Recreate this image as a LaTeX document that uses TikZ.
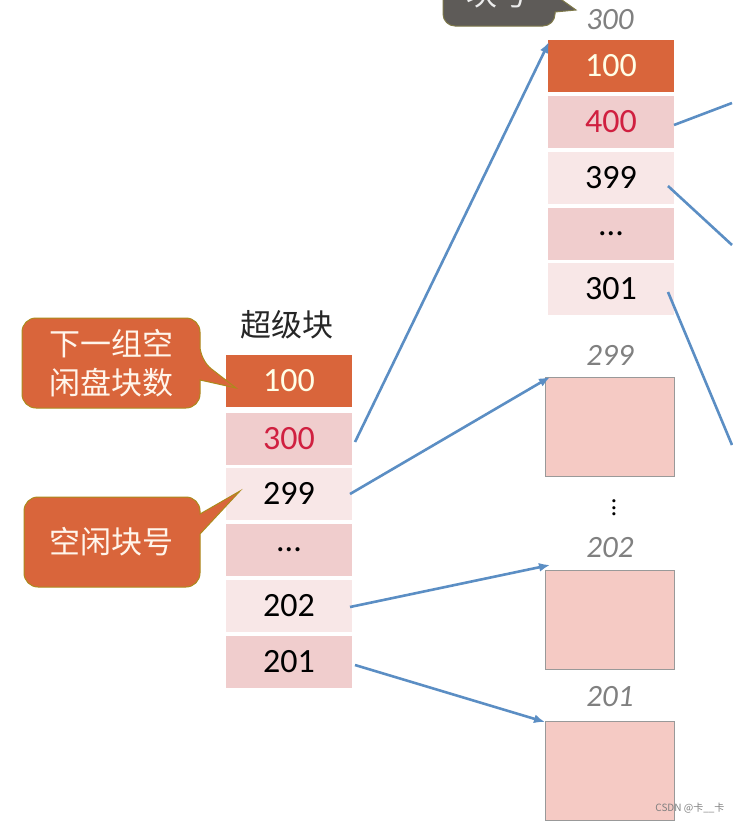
\documentclass[tikz,border=0pt]{standalone}
\usepackage{fontspec}
\setmainfont{Carlito}
\newfontfamily\cjk{Noto Sans CJK SC}
\usetikzlibrary{arrows.meta}
\definecolor{org}{HTML}{D9653B}
\definecolor{rowa}{HTML}{F0CDCD}
\definecolor{rowb}{HTML}{F8E7E7}
\definecolor{boxf}{HTML}{F5CAC4}
\definecolor{redt}{HTML}{D02040}
\definecolor{arr}{HTML}{5B8EC4}
\definecolor{grayc}{HTML}{5E5B58}
\tikzset{x=1pt,y=-1pt,
 cell/.style={minimum width=126pt,minimum height=52pt,inner sep=0pt,font=\fontsize{34}{38}\selectfont},
 lbl/.style={font=\itshape\fontsize{31}{34}\selectfont,text=gray},
 ebox/.style={draw=gray!80,fill=boxf,minimum width=129pt,minimum height=99pt,inner sep=0pt},
 link/.style={draw=arr,line width=2.6pt,-{Latex[length=11pt,width=9pt]}},
 plain/.style={draw=arr,line width=2.6pt},
 cjkt/.style={font=\cjk\fontsize{31}{39}\selectfont},
 callout/.style={fill=org,draw=olive!60!org,line width=1pt}}
\begin{document}
\begin{tikzpicture}
\useasboundingbox (0,0) rectangle (732,825);
\fill[white] (0,0) rectangle (732,825);
% super block
\node[cjkt,text=black!85] (sbl) at (287,325) {超级块};
\node[cell,fill=org,text=white!90!yellow] (s1) at (289,381) {100};
\node[cell,fill=rowa,text=redt] (s2) at (289,438.5) {300};
\node[cell,fill=rowb] (s3) at (289,493.5) {299};
\node[cell,fill=rowa] (s4) at (289,549.5) {...};
\node[cell,fill=rowb] (s5) at (289,605.5) {202};
\node[cell,fill=rowa] (s6) at (289,662) {201};
% right block 300
\node[lbl] (l300) at (610,20) {300};
\node[cell,fill=org,text=white!90!yellow] (r1) at (611,65.5) {100};
\node[cell,fill=rowa,text=redt] (r2) at (611,122) {400};
\node[cell,fill=rowb] (r3) at (611,177.5) {399};
\node[cell,fill=rowa] (r4) at (611,233.5) {...};
\node[cell,fill=rowb] (r5) at (611,289) {301};
% empty blocks
\node[lbl] (l299) at (610,355) {299};
\node[ebox] (b299) at (609.5,426.5) {};
\node[font=\fontsize{26}{30}\selectfont] (vd) at (614,508) {\rotatebox{90}{...}};
\node[lbl] (l202) at (610,548) {202};
\node[ebox] (b202) at (609.5,619.5) {};
\node[lbl] (l201) at (610,697) {201};
\node[ebox] (b201) at (609.5,770.5) {};
% arrows
\coordinate (t300) at (549,42);
\coordinate (t299) at (550,377);
\coordinate (t202) at (550,565);
\coordinate (t201) at (545,722);
\draw[link] (355,442) -- (t300);
\draw[link] (350,494) -- (t299);
\draw[link] (350,607) -- (t202);
\draw[link] (355,665) -- (t201);
\coordinate (e1) at (732,103);
\coordinate (e2) at (732,245);
\coordinate (e3) at (732,445);
\draw[plain] (674,125) -- (e1);
\draw[plain] (668,186) -- (e2);
\draw[plain] (668,292) -- (e3);
% callouts
\draw[callout,rounded corners=14pt] (22,318) -- (200,318) -- (200,360) [sharp corners] -- (236,388) -- (200,380) [rounded corners=14pt] -- (200,408) -- (22,408) -- cycle;
\node[cjkt,text=white!92!orange,align=center] (c1) at (111,363) {下一组空\\闲盘块数};
\draw[callout,rounded corners=14pt] (24,497) -- (200,497) [sharp corners] -- (200,514) -- (240,491) -- (200,534) [rounded corners=14pt] -- (200,587) -- (24,587) -- cycle;
\node[cjkt,text=white!92!orange] (c2) at (111,542) {空闲块号};
\begin{scope}
\clip (0,0) rectangle (732,825);
\draw[fill=grayc,draw=olive!40!grayc,line width=1pt,rounded corners=12pt] (443,-30) -- (555,-30) [sharp corners] -- (555,-5) -- (576,10) -- (555,12) [rounded corners=12pt] -- (555,26) -- (443,26) -- cycle;
\node[cjkt,text=white!85!gray] (c3) at (497,-6) {块号};
\end{scope}
\node[font=\cjk\fontsize{10}{11}\selectfont,text=gray,anchor=east] (wm) at (728,808) {CSDN @卡\_\_卡};
\end{tikzpicture}
\end{document}
